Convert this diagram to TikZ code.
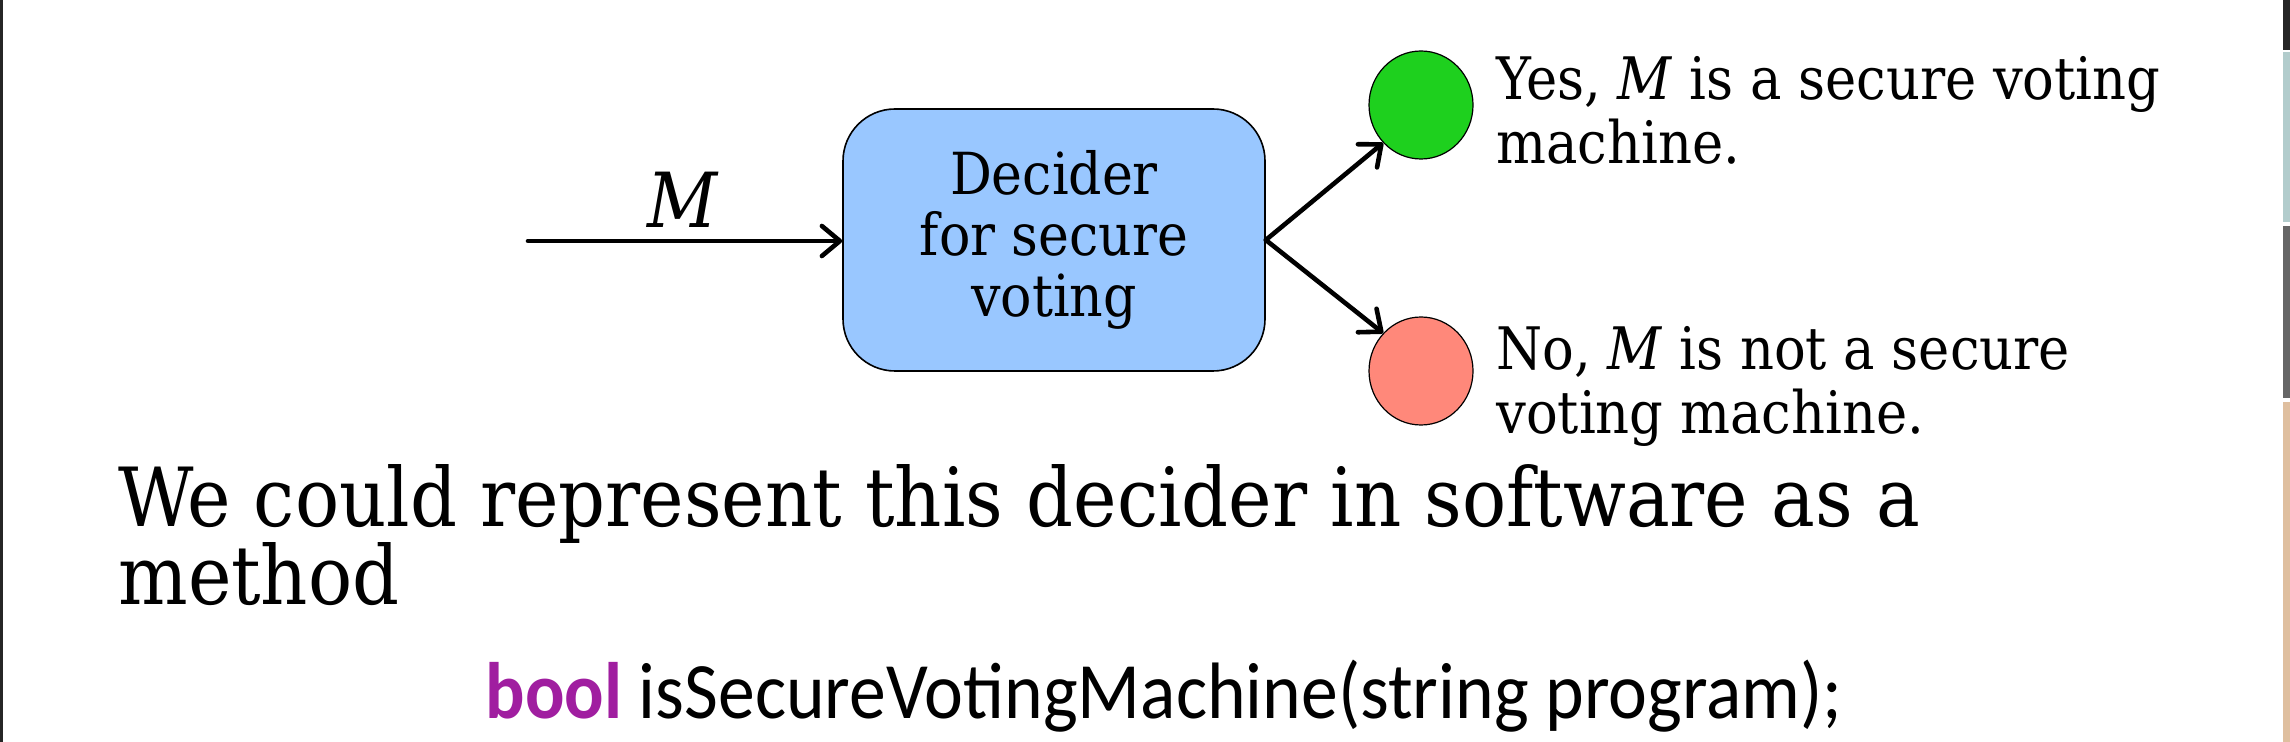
\documentclass[tikz,border=0pt]{standalone}
\usepackage{fontspec}
\setmainfont{DejaVu Serif Condensed}
\newfontfamily\codefont{Carlito}
\usetikzlibrary{arrows.meta,shapes.geometric}
\newcommand\tightlines{\lineskiplimit-30pt\relax}
\definecolor{boxblue}{RGB}{153,199,255}
\definecolor{yesgreen}{RGB}{30,208,30}
\definecolor{nored}{RGB}{255,136,122}
\definecolor{kwpurple}{RGB}{160,30,160}
\tikzset{
  conn/.style={line width=2.3pt, line cap=round, -{Straight Barb[length=9pt,width=15pt,line width=2.3pt,round]}},
  deciderbox/.style={draw=black, line width=0.8pt, fill=boxblue, rounded corners=26pt,
    minimum width=211pt, minimum height=131pt, align=center, inner sep=0pt,
    font=\fontsize{29}{30.7}\selectfont\tightlines},
  outcome/.style={draw=black, line width=0.6pt, ellipse, minimum width=52pt, minimum height=54pt, inner sep=0pt},
  outtext/.style={anchor=west, align=left, inner sep=0pt, font=\fontsize{29.3}{32}\selectfont\tightlines},
}
\begin{document}
\begin{tikzpicture}[x=0.5pt,y=-0.5pt]
\useasboundingbox (0,0) rectangle (2290,742);
\fill[white] (0,0) rectangle (2290,742);
% screen edges
\fill[black!85] (0,0) rectangle (3,742);
\fill[black!85] (2283,0) rectangle (2290,50);
\fill[gray!50!teal!40] (2283,52) rectangle (2290,222);
\fill[black!60] (2283,226) rectangle (2290,398);
\fill[brown!50] (2283,402) rectangle (2290,742);

\node[deciderbox] (dec) at (1054,240) {Decider\\for secure\\voting};
\coordinate (in) at (528,241);
\draw[conn] (in) -- (dec.west |- in);
\node[font=\fontsize{38}{40}\selectfont] (m) at (683,200) {\textit{M}};

\node[outcome, fill=yesgreen] (yes) at (1421,105) {};
\node[outcome, fill=nored] (no) at (1421,371) {};
\draw[conn] (dec.east) -- (yes.225);
\draw[conn] (dec.east) -- (no.135);

\node[outtext] (yestext) at (1496,110) {Yes, \textit{M} is a secure voting\\machine.};
\node[outtext] (notext) at (1496,386) {No, \textit{M} is not a secure\\voting machine.};

\node[anchor=west, align=left, inner sep=0pt, font=\fontsize{40.8}{39}\selectfont\tightlines] (para) at (118,535)
  {We could represent this decider in software as a\\method};
\node[inner sep=0pt, xscale=0.92, font=\codefont\fontsize{40}{46}\selectfont] (code) at (1164,696)
  {\textcolor{kwpurple}{\textbf{bool}} isSecureVotingMachine(string program);};
\end{tikzpicture}
\end{document}
